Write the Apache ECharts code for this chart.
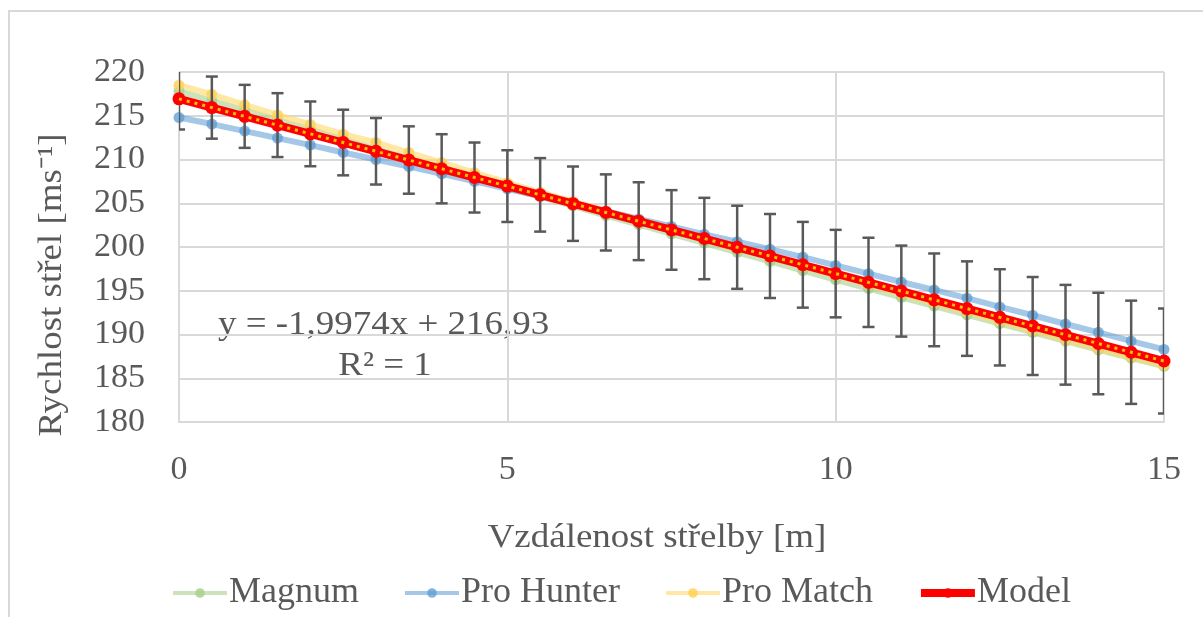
<!DOCTYPE html>
<html>
<head>
<meta charset="utf-8">
<script src="https://cdn.jsdelivr.net/npm/echarts@6/dist/echarts.min.js"></script>
<style>
html,body{margin:0;padding:0;background:#fff;}
#c{width:1203px;height:617px;}
</style>
</head>
<body>
<div id="c"></div>
<script>
// Distance [m]
const distances = [0,0.5,1,1.5,2,2.5,3,3.5,4,4.5,5,5.5,6,6.5,7,7.5,8,8.5,9,9.5,10,10.5,11,11.5,12,12.5,13,13.5,14,14.5,15];
const magnum = [217.8,216.7,215.6,214.5,213.4,212.3,211.2,210.1,209.0,207.9,206.8,205.75,204.7,203.6,202.55,201.5,200.45,199.4,198.35,197.3,196.25,195.25,194.25,193.25,192.25,191.25,190.25,189.25,188.25,187.3,186.35];
const proHunter = [214.8,214.05,213.25,212.45,211.65,210.8,210.0,209.2,208.35,207.5,206.65,205.8,204.95,204.1,203.2,202.35,201.45,200.6,199.75,198.85,197.9,196.95,196.0,195.1,194.15,193.15,192.2,191.2,190.25,189.25,188.3];
const proMatch = [218.5,217.45,216.25,215.1,214.0,212.9,211.95,210.8,209.65,208.5,207.35,206.25,205.2,204.1,203.05,202.0,200.95,199.9,198.85,197.8,196.75,195.7,194.65,193.6,192.55,191.5,190.45,189.4,188.35,187.4,186.5];
const model = [216.93,215.93,214.93,213.93,212.93,211.94,210.94,209.94,208.94,207.94,206.96,205.96,204.95,203.95,202.95,201.95,200.97,199.97,198.97,197.97,196.96,195.96,194.96,193.96,192.96,191.96,190.97,189.97,188.97,187.97,186.97];
const modelError = [3.5,3.55,3.6,3.65,3.7,3.75,3.8,3.85,3.95,4.0,4.1,4.2,4.25,4.35,4.45,4.55,4.65,4.75,4.8,4.9,5.0,5.1,5.2,5.3,5.4,5.5,5.6,5.7,5.8,5.9,6.0];
const seriesNames = ['Magnum','Pro Hunter','Pro Match','Model'];
const xAxisTitle = 'Vzdálenost střelby [m]';
const yAxisTitle = 'Rychlost střel [ms⁻¹]';
const equationText = 'y = -1,9974x + 216,93';
const r2Text = 'R² = 1';

const FONT = '"Liberation Serif","Times New Roman",serif';
const TXT = '#595959';
const SX = 1.12;
const pair = arr => distances.map((x,i)=>[x,arr[i]]);

const styles = {
  'Magnum':    {line:'rgba(169,209,142,0.6)', dot:'rgba(169,209,142,0.85)'},
  'Pro Hunter':{line:'rgba(91,155,213,0.55)', dot:'rgba(91,155,213,0.75)'},
  'Pro Match': {line:'rgba(255,217,102,0.6)', dot:'rgba(255,210,90,0.85)'},
  'Model':     {line:'#ff0000', dot:'#ff0000'}
};

const chart = echarts.init(document.getElementById('c'), null, {renderer:'canvas'});
chart.setOption({
  animation:false,
  backgroundColor:'#fff',
  grid:{left:179,right:39,top:72,bottom:195,containLabel:false},
  xAxis:{type:'value',min:0,max:15,interval:5,
    axisLine:{show:true,lineStyle:{color:'#d9d9d9',width:2}},
    axisTick:{show:false},
    axisLabel:{color:TXT,fontFamily:FONT,fontSize:34,margin:31},
    splitLine:{show:true,lineStyle:{color:'#d9d9d9',width:2}}},
  yAxis:{type:'value',min:180,max:220,interval:5,
    axisLine:{show:false},axisTick:{show:false},
    axisLabel:{color:TXT,fontFamily:FONT,fontSize:34,margin:34},
    splitLine:{show:true,lineStyle:{color:'#d9d9d9',width:2}}},
  legend:{
    data:seriesNames.map(n=>({name:n,
      lineStyle:{width:n==='Model'?8:4,color:styles[n].line},
      itemStyle:{color:styles[n].dot}})),
    left:166,top:570,itemWidth:54,itemHeight:12,itemGap:44,
    textStyle:{color:TXT,fontFamily:FONT,fontSize:36,padding:[0,0,0,-3]}},
  graphic:[
    {type:'rect',silent:true,z:-1,shape:{x:9,y:11,width:1220,height:640},style:{fill:null,stroke:'#d9d9d9',lineWidth:2}},
    {type:'text',x:52,y:285,rotation:Math.PI/2,scaleX:SX,style:{text:yAxisTitle,font:'33px '+FONT,fill:TXT,align:'center',verticalAlign:'middle'}},
    {type:'text',x:657,y:538,scaleX:SX,style:{text:xAxisTitle,font:'33px '+FONT,fill:TXT,align:'center',verticalAlign:'middle'}},
    {type:'text',x:218,y:325,scaleX:SX,style:{text:equationText,font:'33px '+FONT,fill:TXT,align:'left',verticalAlign:'middle'}},
    {type:'text',x:385,y:366,scaleX:SX,style:{text:r2Text,font:'33px '+FONT,fill:TXT,align:'center',verticalAlign:'middle'}}
  ],
  series:[
    {name:'Magnum',type:'line',data:pair(magnum),symbol:'circle',symbolSize:11,z:2,
      lineStyle:{color:styles['Magnum'].line,width:6},itemStyle:{color:styles['Magnum'].dot}},
    {name:'Pro Hunter',type:'line',data:pair(proHunter),symbol:'circle',symbolSize:11,z:2,
      lineStyle:{color:styles['Pro Hunter'].line,width:6},itemStyle:{color:styles['Pro Hunter'].dot}},
    {name:'Pro Match',type:'line',data:pair(proMatch),symbol:'circle',symbolSize:11,z:2,
      lineStyle:{color:styles['Pro Match'].line,width:6},itemStyle:{color:styles['Pro Match'].dot}},
    {name:'errorbars',type:'custom',z:3,clip:true,
      data:distances.map((x,i)=>[x,model[i],modelError[i]]),
      renderItem:function(params,api){
        const x=api.value(0),y=api.value(1),e=api.value(2);
        const t=api.coord([x,y+e]),b=api.coord([x,y-e]);
        const hw=6,st={stroke:'#595959',lineWidth:2.5};
        return {type:'group',children:[
          {type:'line',shape:{x1:t[0],y1:t[1],x2:b[0],y2:b[1]},style:st},
          {type:'line',shape:{x1:t[0]-hw,y1:t[1],x2:t[0]+hw,y2:t[1]},style:st},
          {type:'line',shape:{x1:b[0]-hw,y1:b[1],x2:b[0]+hw,y2:b[1]},style:st}
        ]};
      }},
    {name:'Model',type:'line',data:pair(model),symbol:'circle',symbolSize:13,z:4,
      lineStyle:{color:styles['Model'].line,width:8},itemStyle:{color:styles['Model'].dot}},
    {name:'ModelDots',type:'line',data:pair(model),symbol:'none',z:5,silent:true,
      lineStyle:{color:'#ffc000',width:3,type:[3,5]}}
  ]
});
</script>
</body>
</html>
